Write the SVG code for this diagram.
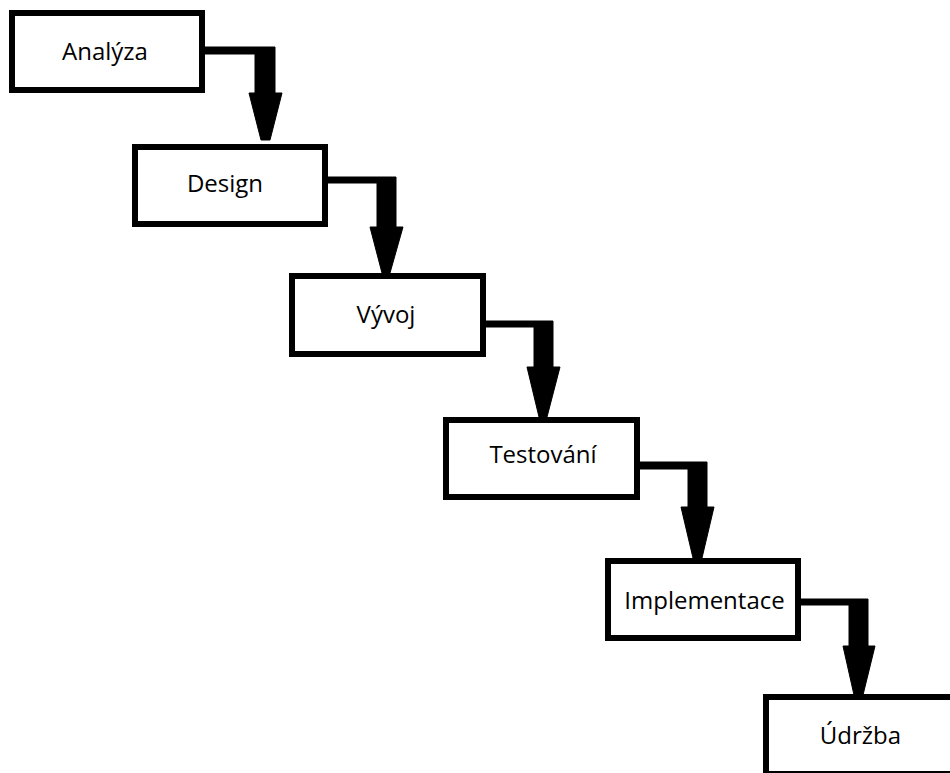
<svg xmlns="http://www.w3.org/2000/svg" width="950" height="773" viewBox="0 0 950 773">
<style>
.box{fill:#fff;stroke:#000;stroke-width:6}
.lbl{font-family:"Open Sans","Liberation Sans",sans-serif;font-size:24px;fill:#000;text-anchor:middle}
.arr{fill:#000;stroke:#000;stroke-width:1;stroke-linejoin:round}
</style>
<rect x="0" y="0" width="950" height="773" fill="#fff"/>
<g id="connectors">
<polygon class="arr" points="205,47 275,47 275,93 282,93 270,140 261,140 249,93 255,93 255,54 205,54"/>
<polygon class="arr" points="328,177 396,177 396,227 403,227 390,273 382,273 370,227 377,227 377,183 328,183"/>
<polygon class="arr" points="486,321 553,321 553,367 560,367 547,417 539,417 527,367 534,367 534,327 486,327"/>
<polygon class="arr" points="640,462 707,462 707,507 714,507 702,558 693,558 681,507 688,507 688,469 640,469"/>
<polygon class="arr" points="801,599 868,599 868,646 875,646 863,695 854,695 843,646 849,646 849,605 801,605"/>
</g>
<g id="analyza"><rect class="box" x="12" y="13" width="190" height="77"/><text class="lbl" x="105" y="60">Analýza</text></g>
<g id="design"><rect class="box" x="135" y="147" width="190" height="77"/><text class="lbl" x="225" y="192">Design</text></g>
<g id="vyvoj"><rect class="box" x="292" y="276" width="191" height="78"/><text class="lbl" x="386" y="323">Vývoj</text></g>
<g id="testovani"><rect class="box" x="446" y="420" width="191" height="77"/><text class="lbl" x="543" y="463">Testování</text></g>
<g id="implementace"><rect class="box" x="608" y="561" width="190" height="77"/><text class="lbl" x="704.5" y="609">Implementace</text></g>
<g id="udrzba"><rect class="box" x="766" y="697" width="200" height="77"/><text class="lbl" x="860.5" y="744">Údržba</text></g>
</svg>
